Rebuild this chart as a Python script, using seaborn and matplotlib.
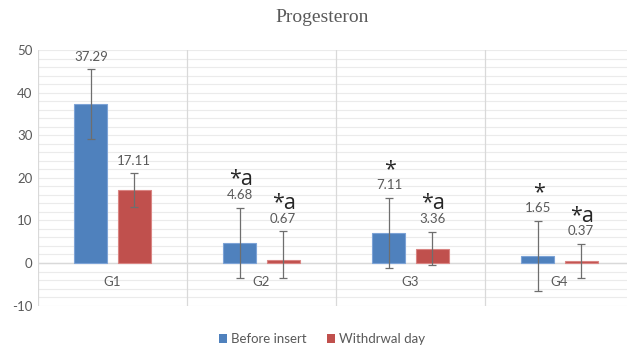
import matplotlib
matplotlib.use("Agg")
import matplotlib.pyplot as plt
from matplotlib.patches import Patch
import numpy as np
import pandas as pd
import seaborn as sns

groups = ["G1", "G2", "G3", "G4"]
series = ["Before insert", "Withdrwal day"]
before = [37.29, 4.68, 7.11, 1.65]
withdrawal = [17.11, 0.67, 3.36, 0.37]
before_err_lo = [8.2, 8.3, 8.35, 8.25]
before_err_hi = [8.2, 8.3, 8.2, 8.25]
withdrawal_err_lo = [3.95, 4.1, 3.85, 3.9]
withdrawal_err_hi = [3.95, 6.8, 4.0, 4.1]
before_marks = ["", "*a", "*", "*"]
withdrawal_marks = ["", "*a", "*a", "*a"]
title = "Progesteron"

colors = ["#4F81BD", "#C0504D"]
edge_colors = ["#7DA3D6", "#D98583"]
text_gray = "#595959"

sns.set_theme(style="white")
plt.rcParams["font.family"] = ["Lato", "DejaVu Sans"]

df = pd.DataFrame({
    "group": groups * 2,
    "series": [series[0]] * 4 + [series[1]] * 4,
    "value": before + withdrawal,
})

fig = plt.figure(figsize=(6.27, 3.47), dpi=100)
W, H = 627, 347
left_px, right_px, top_px, bottom_px = 38, 627, 50, 305.6
ax = fig.add_axes([left_px / W, 1 - bottom_px / H,
                   (right_px - left_px) / W, (bottom_px - top_px) / H])

sns.barplot(data=df, x="group", y="value", hue="series", order=groups,
            hue_order=series, palette=colors, saturation=1, width=0.58, gap=0.24,
            errorbar=None, legend=False, ax=ax, zorder=3)

# group spans are 149 px wide; the last one runs slightly past the canvas
group_px = 149.0
ax.set_xlim(-0.5, -0.5 + (right_px - left_px) / group_px)
ax.set_ylim(-10, 50)

# gridlines every 2 units, separators between groups
for yv in np.arange(-10, 51, 2):
    ax.axhline(yv, color="#EBEBEB", lw=0.8, zorder=0)
ax.axhline(0, color="#D9D9D9", lw=1.0, zorder=1)
for xv in np.arange(-0.5, 4.0, 1.0):
    ax.axvline(xv, color="#D9D9D9", lw=0.9, zorder=1)

for s in ax.spines.values():
    s.set_visible(False)

ax.set_yticks(np.arange(-10, 51, 10))
ax.set_yticklabels([str(v) for v in np.arange(-10, 51, 10)])
ax.tick_params(axis="y", length=0, pad=4, labelsize=9.5, labelcolor=text_gray)
ax.set_xticks([])
ax.set_xlabel("")
ax.set_ylabel("")

# category labels sit just under the zero line
for i, g in enumerate(groups):
    ax.annotate(g, xy=(i, 0), xytext=(0, -14), textcoords="offset points",
                ha="center", va="center", fontsize=9.5, color=text_gray)

patches = ax.patches
sets = [
    (before, before_err_lo, before_err_hi, before_marks, edge_colors[0]),
    (withdrawal, withdrawal_err_lo, withdrawal_err_hi, withdrawal_marks, edge_colors[1]),
]
for k, (vals, elo, ehi, marks, ec) in enumerate(sets):
    bars = patches[k * len(groups):(k + 1) * len(groups)]
    xs = [b.get_x() + b.get_width() / 2 for b in bars]
    for b in bars:
        b.set_edgecolor(ec)
        b.set_linewidth(0.8)
    ax.errorbar(xs, vals, yerr=[elo, ehi], fmt="none", ecolor="#6E6E6E",
                elinewidth=0.9, capsize=3.2, capthick=0.9, zorder=4)
    for x, v, hi, m in zip(xs, vals, ehi, marks):
        top = v + hi
        ax.annotate(f"{v:.2f}", xy=(x, top), xytext=(0, 9), textcoords="offset points",
                    ha="center", va="center", fontsize=9.5, color=text_gray, zorder=5)
        if m:
            ax.annotate(m, xy=(x, top), xytext=(1, 20), textcoords="offset points",
                        ha="center", va="center", fontsize=15.5, color="#262626",
                        family=["Open Sans", "DejaVu Sans"], zorder=6)

fig.text(322 / W, 1 - 17 / H, title, ha="center", va="center", fontsize=14,
         color=text_gray, family=["Liberation Serif", "DejaVu Serif"])

handles = [Patch(facecolor=c, edgecolor="none") for c in colors]
fig.legend(handles, series, loc="center", bbox_to_anchor=(322 / W, 1 - 339 / H),
           ncol=2, frameon=False, fontsize=9.5, labelcolor=text_gray,
           handlelength=0.6, handleheight=0.7, handletextpad=0.3, columnspacing=1.6)

fig.savefig("out.png", dpi=100, facecolor="white")
